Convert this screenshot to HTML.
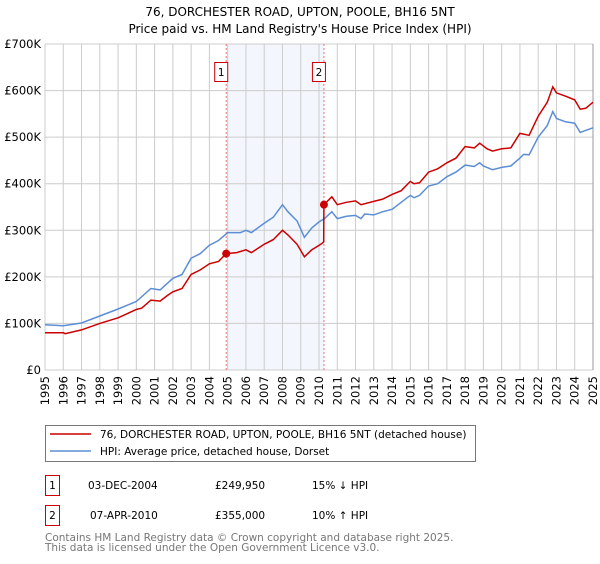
<!DOCTYPE html>
<html><head><meta charset="utf-8"><style>
body{margin:0;background:#fff;font-family:"DejaVu Sans","Liberation Sans",sans-serif;}
svg text{font-family:"DejaVu Sans","Liberation Sans",sans-serif;}
</style></head><body>
<svg width="600" height="560" viewBox="0 0 600 560" xmlns="http://www.w3.org/2000/svg">
<text x="300" y="16" text-anchor="middle" font-size="12">76, DORCHESTER ROAD, UPTON, POOLE, BH16 5NT</text>
<text x="300" y="33" text-anchor="middle" font-size="12">Price paid vs. HM Land Registry's House Price Index (HPI)</text>
<g id="plot"></g>
<g>
<rect x="45.5" y="425.5" width="430" height="36" fill="#fff" stroke="#777"/>
<line x1="50" y1="434" x2="91" y2="434" stroke="#cc0000" stroke-width="1.5"/>
<text x="100" y="438" font-size="10.5">76, DORCHESTER ROAD, UPTON, POOLE, BH16 5NT (detached house)</text>
<line x1="50" y1="451" x2="91" y2="451" stroke="#5b8ed6" stroke-width="1.5"/>
<text x="100" y="455" font-size="10.5">HPI: Average price, detached house, Dorset</text>
</g>
<g>
<rect x="45.5" y="475.5" width="14" height="20" fill="#fff" stroke="#cc0000"/>
<text x="52.5" y="489" text-anchor="middle" font-size="10.5">1</text>
<text x="88" y="489" font-size="10.5">03-DEC-2004</text>
<text x="215" y="489" font-size="10.5">£249,950</text>
<text x="312" y="489" font-size="10.5">15% ↓ HPI</text>
</g>
<g>
<rect x="45.5" y="505.5" width="14" height="20" fill="#fff" stroke="#cc0000"/>
<text x="52.5" y="519" text-anchor="middle" font-size="10.5">2</text>
<text x="90" y="519" font-size="10.5">07-APR-2010</text>
<text x="215" y="519" font-size="10.5">£355,000</text>
<text x="312" y="519" font-size="10.5">10% ↑ HPI</text>
</g>
<text x="45" y="541" font-size="10.5" fill="#777">Contains HM Land Registry data © Crown copyright and database right 2025.</text>
<text x="45" y="551" font-size="10.5" fill="#777">This data is licensed under the Open Government Licence v3.0.</text>
</svg>
<script>
const hpiYears=[1995,1996,1997,1998,1999,2000,2000.8,2001.3,2002,2002.5,2003,2003.5,2004,2004.5,2005,2005.7,2006,2006.3,2007,2007.5,2008,2008.3,2008.8,2009.2,2009.6,2010,2010.3,2010.7,2011,2011.5,2012,2012.3,2012.5,2013,2013.5,2014,2014.5,2015,2015.2,2015.5,2016,2016.5,2017,2017.5,2018,2018.5,2018.8,2019,2019.5,2020,2020.5,2021,2021.2,2021.5,2022,2022.5,2022.8,2023,2023.5,2024,2024.3,2024.5,2025];
const hpiValues=[97,95,101,116,131,147,175,172,197,205,240,250,268,278,295,295,300,295,315,328,355,340,320,285,305,318,325,340,325,330,332,325,335,333,340,345,360,375,370,375,395,400,415,425,440,437,445,438,430,435,438,455,463,462,500,525,555,540,533,530,510,513,520];
const priceYears=[1995,1996,1996.1,1997,1998,1999,2000,2000.3,2000.8,2001.3,2001.7,2002,2002.5,2003,2003.5,2004,2004.5,2004.92,2005.5,2006,2006.3,2007,2007.5,2008,2008.3,2008.8,2009.2,2009.6,2010.1,2010.26,2010.27,2010.7,2011,2011.5,2012,2012.3,2013,2013.5,2014,2014.5,2015,2015.2,2015.5,2016,2016.5,2017,2017.5,2018,2018.5,2018.8,2019.2,2019.5,2020,2020.5,2021,2021.5,2022,2022.5,2022.8,2023,2023.5,2024,2024.3,2024.6,2025];
const priceValues=[80,80,78,86,100,112,130,133,150,148,160,168,175,205,215,228,233,250,252,258,252,270,280,300,290,270,243,258,270,275,355,372,355,360,363,355,362,367,377,385,405,400,402,425,432,445,455,480,477,487,475,470,475,477,508,504,545,575,608,595,588,580,560,562,575];
const saleYears=[2004.92,2010.27];
const saleValues=[249.95,355];
const saleLabels=["1","2"];
const yTicks=[0,100,200,300,400,500,600,700];
const yTickLabels=["£0","£100K","£200K","£300K","£400K","£500K","£600K","£700K"];
const xTicks=[1995,1996,1997,1998,1999,2000,2001,2002,2003,2004,2005,2006,2007,2008,2009,2010,2011,2012,2013,2014,2015,2016,2017,2018,2019,2020,2021,2022,2023,2024,2025];

const L=45,R=593,T=44,B=370;
const xs=y=>L+(y-1995)/30*(R-L);
const ys=v=>B-v/700*(B-T);
const NS="http://www.w3.org/2000/svg";
const g=document.getElementById('plot');
function mk(tag,attrs,parent){const e=document.createElementNS(NS,tag);for(const k in attrs)e.setAttribute(k,attrs[k]);(parent||g).appendChild(e);return e;}
let e;
e=mk('rect',{x:xs(saleYears[0]),y:T,width:xs(saleYears[1])-xs(saleYears[0]),height:B-T,fill:'#f3f6fd'});


xTicks.forEach(t=>{
 e=mk('line',{x1:xs(t),x2:xs(t),y1:T,y2:B,stroke:'#ccc','stroke-width':1});
 
 
 e=mk('text',{x:0,y:0,'font-size':11.5,'text-anchor':'end',transform:`translate(${xs(t)+4},${B+6}) rotate(-90)`});
 e.textContent=t;
 
 
});
yTicks.forEach((t,i)=>{
 e=mk('line',{x1:L,x2:R,y1:ys(t),y2:ys(t),stroke:'#ccc','stroke-width':1});
 
 
 e=mk('text',{x:L-4,y:ys(t)+4,'font-size':11.5,'text-anchor':'end'});
 e.textContent=yTickLabels[i];
 
 
});
e=mk('line',{x1:R,x2:R,y1:T,y2:B,stroke:'#999','stroke-width':1});


saleYears.forEach((s,i)=>{
 e=mk('line',{x1:xs(s),x2:xs(s),y1:T,y2:B,stroke:'#f07070','stroke-width':1,'stroke-dasharray':'2,2'});
 
 
 e=mk('rect',{x:xs(s)-11.5,y:62.5,width:13,height:19,fill:'#fff',stroke:'#cc0000'});
 
 
 e=mk('text',{x:xs(s)-5,y:76,'font-size':10.5,'text-anchor':'middle'});
 e.textContent=saleLabels[i];
 
 
});
function pts(xa,va){return xa.map((x,i)=>xs(x).toFixed(1)+','+ys(va[i]).toFixed(1)).join(' ');}
e=mk('polyline',{points:pts(hpiYears,hpiValues),fill:'none',stroke:'#5b8ed6','stroke-width':1.5});


e=mk('polyline',{points:pts(priceYears,priceValues),fill:'none',stroke:'#cc0000','stroke-width':1.5});


saleYears.forEach((s,i)=>{
 e=mk('circle',{cx:xs(s),cy:ys(saleValues[i]),r:4,fill:'#cc0000'});
 
 
});
</script>
</body></html>
